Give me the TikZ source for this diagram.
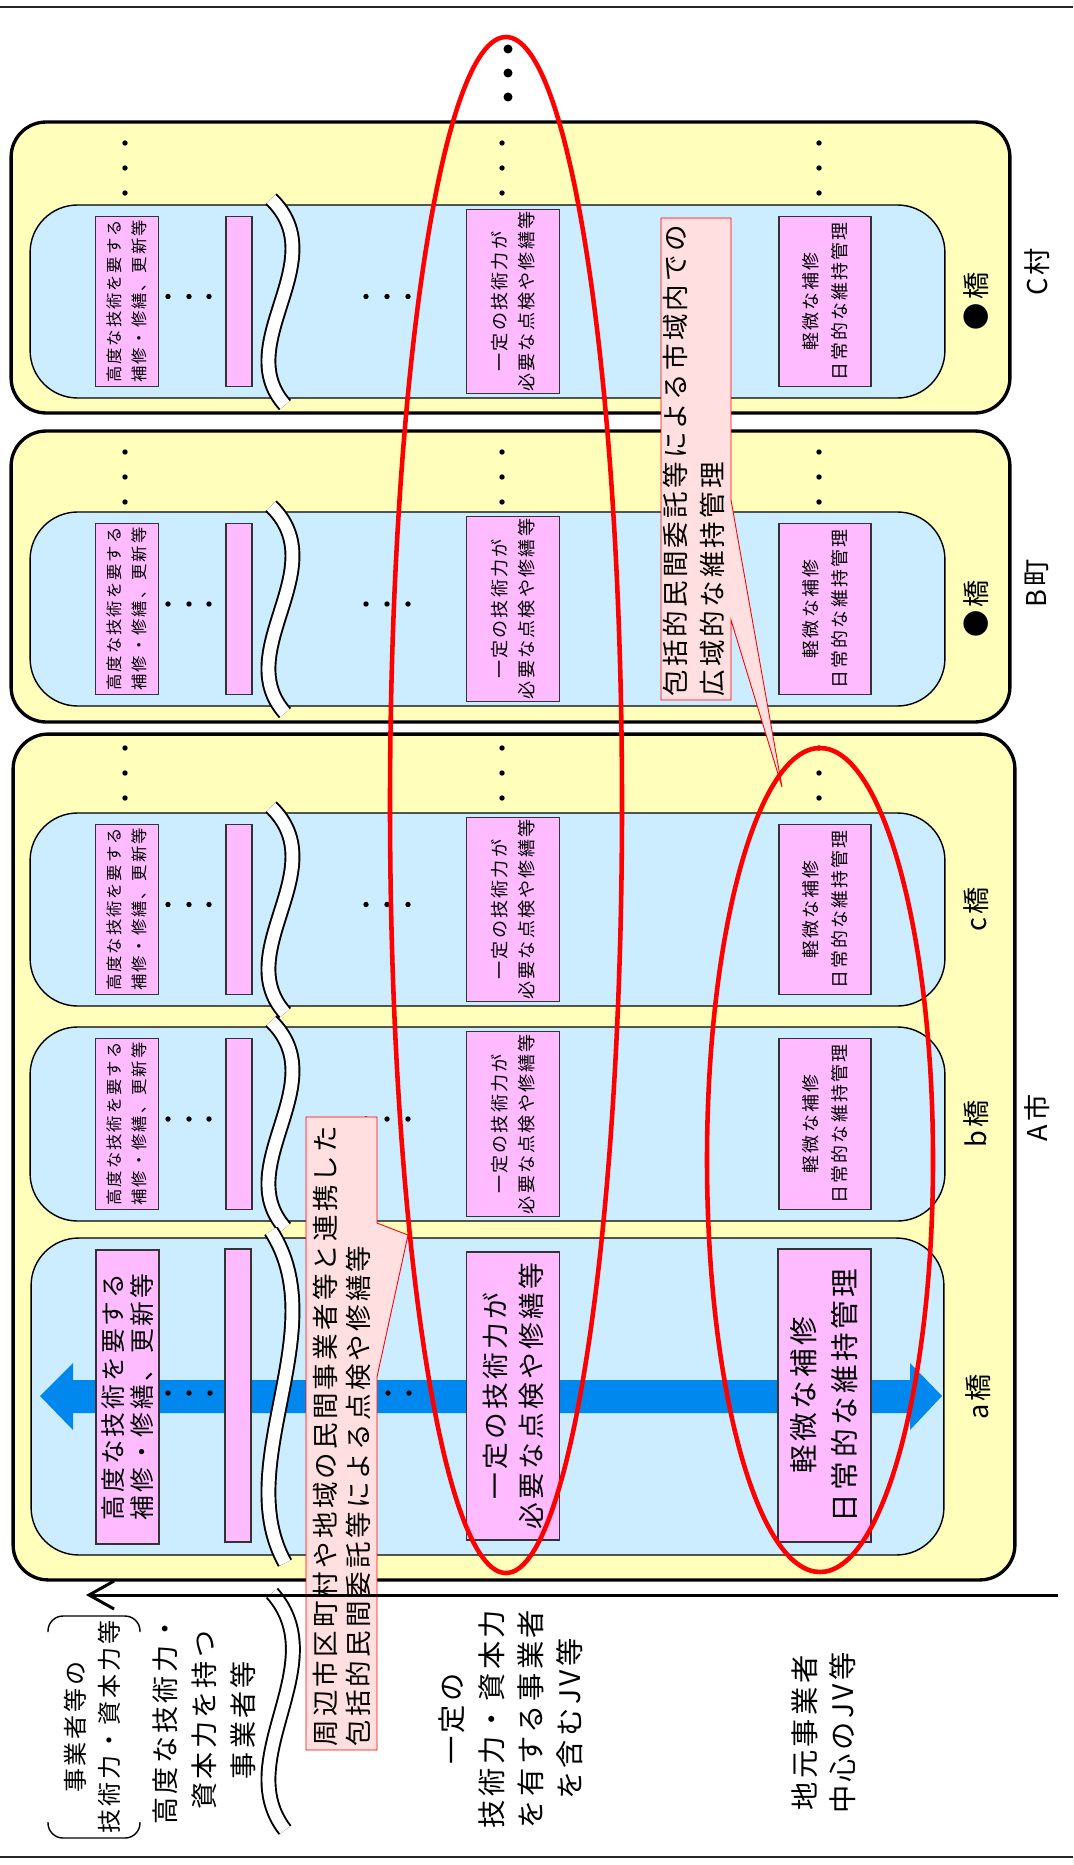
\documentclass[tikz,border=0pt]{standalone}
\usepackage{fontspec}
\usepackage{xcolor}
\usepackage{tikz}
\usetikzlibrary{calc,arrows.meta}
\newfontfamily\jp[LetterSpace=12]{Noto Sans CJK JP}
\newcommand{\jpsize}[2]{\jp\fontsize{#1pt}{#2pt}\selectfont}
\definecolor{townyellow}{HTML}{FFFFBB}
\definecolor{bridgeblue}{HTML}{CCECFF}
\definecolor{workpink}{HTML}{FFBBFF}
\definecolor{notepink}{HTML}{FFDFDF}
\definecolor{arrowblue}{HTML}{0088EE}
\tikzset{
  townbox/.style={draw, line width=1.9pt, fill=townyellow, rounded corners=0.7cm,
  outer sep=0pt},
  bridgebox/.style={draw, line width=0.8pt, fill=bridgeblue, rounded corners=0.95cm,
  outer sep=0pt},
  workbox/.style={draw=black!80, line width=0.8pt, fill=workpink, rotate=90,
  align=center, inner sep=0pt, outer sep=0pt},
  notebox/.style={draw=red, line width=0.5pt, fill=notepink},
  notetext/.style={rotate=90, anchor=west, align=left, inner sep=0pt},
  sidetext/.style={rotate=90, align=center, inner sep=0pt},
  breakline/.style={draw=black, line width=1.1pt, double=white,
  double distance=0.24cm},
  ring/.style={draw=red, line width=2.6pt}
}
\begin{document}
\begin{tikzpicture}[x=0.02cm,y=-0.02cm]
\useasboundingbox (0,0) rectangle (1073,1865);
\draw[line width=0.8pt, black!85] (0,7) -- (1073,7);
\draw[line width=0.8pt, black!85] (0,1857) -- (1073,1857);

% municipalities
\node (Cvil) [townbox, minimum width=19.98cm, minimum height=5.82cm] at (510.5,267.5) {};
\node (Btown) [townbox, minimum width=19.98cm, minimum height=5.82cm] at (510.5,576.5) {};
\node (Acity) [townbox, minimum width=20.04cm, minimum height=16.92cm] at (514,1157) {};
\node (labC) [sidetext, font=\jpsize{15.5}{18}] at (1037,272) {C村};
\node (labB) [sidetext, font=\jpsize{15.5}{18}] at (1037,583) {B町};
\node (labA) [sidetext, font=\jpsize{15.5}{18}] at (1037,1118) {A市};

% vertical dots
\foreach \y in {143,452,748}
  \foreach \x in {125,502,819}
    \foreach \d in {0,25,50}
      \fill (\x,\y+\d) circle[radius=2.7];
\foreach \y in {49,73,97}
  \fill (508,\y) circle[radius=4.5];

% small bridges
\foreach \yt/\yb/\lab [count=\i] in {205/398/●橋, 512/706/●橋, 813/1006/c橋, 1027/1221/b橋} {
  \pgfmathsetmacro\yc{(\yt+\yb)/2}
  \pgfmathsetmacro\hb{(\yb-\yt)*0.02}
  \pgfmathsetmacro\hs{(\yb-\yt-23)*0.02}
  \pgfmathsetmacro\hl{(\yb-\yt-9)*0.02}
  \node (br\i) [bridgebox, minimum width=18.3cm, minimum height=\hb cm] at (487.5,\yc) {};
  \node (hi\i) [workbox, font=\jpsize{9.3}{14.2}, minimum width=\hs cm, minimum height=1.26cm]
    at (127,\yc) {高度な技術を要する\\補修・修繕、更新等};
  \node (bar\i) [workbox, minimum width=\hs cm, minimum height=0.52cm] at (239,\yc) {};
  \node (mid\i) [workbox, font=\jpsize{10.3}{15.4}, minimum width=\hl cm, minimum height=1.86cm]
    at (513,\yc) {一定の技術力が\\必要な点検や修繕等};
  \node (lo\i) [workbox, font=\jpsize{10.2}{16.5}, minimum width=\hs cm, minimum height=1.84cm]
    at (825,\yc) {軽微な補修\\日常的な維持管理};
  \node (lb\i) [sidetext, font=\jpsize{15.5}{18}] at (976,\yc) {\lab};
  \foreach \x in {168,189,209,366,387,408}
    \fill (\x,\yc-5) circle[radius=2.7];
  \pgfmathsetmacro\wa{\yt-6}
  \pgfmathsetmacro\wh{\yb-\yt+13}
  \draw[breakline] (271,\wa) .. controls (335,\wa+0.3*\wh) and (230,\wa+0.7*\wh) .. (285,\wa+\wh);
}

% a bridge
\node (bra) [bridgebox, minimum width=18.26cm, minimum height=6.34cm] at (487.5,1396.5) {};
\fill[arrowblue] (40,1396) -- (73,1363) -- (73,1380) -- (910,1380) -- (910,1363) -- (942,1396)
  -- (910,1430) -- (910,1413) -- (73,1413) -- (73,1430) -- cycle;
\node (hia) [workbox, font=\jpsize{14.1}{16.5}, minimum width=5.88cm, minimum height=1.26cm]
  at (127.5,1397) {高度な技術を要する\\補修・修繕、更新等};
\node (bara) [workbox, minimum width=5.86cm, minimum height=0.52cm] at (238,1395.5) {};
\node (mida) [workbox, font=\jpsize{15.2}{20.5}, minimum width=5.76cm, minimum height=1.86cm]
  at (513,1396) {一定の技術力が\\必要な点検や修繕等};
\node (loa) [workbox, font=\jpsize{16.3}{23.3}, minimum width=5.86cm, minimum height=1.86cm]
  at (824.5,1395.5) {軽微な補修\\日常的な維持管理};
\node (lba) [sidetext, font=\jpsize{15.5}{18}] at (978,1397) {a橋};
\foreach \x in {168,189,210,366,388,409}
  \fill (\x,1393) circle[radius=2.7];
\draw[breakline] (271,1231) .. controls (335,1330) and (230,1464) .. (285,1563);
\draw[breakline] (272,1593) .. controls (335,1664) and (230,1759) .. (285,1830);

% callouts
\filldraw[notebox] (661,218) -- (731,218) -- (731,500) -- (782,787) -- (731,620) -- (731,700)
  -- (661,700) -- cycle;
\node (noteUp) [notetext, font=\jpsize{15.1}{21}] at (694,697) {包括的民間委託等による市域内での\\広域的な維持管理};
\filldraw[notebox] (306,1117) -- (377,1117) -- (377,1223) -- (408,1235) -- (377,1377)
  -- (377,1750) -- (306,1750) -- cycle;
\node (noteLow) [notetext, font=\jpsize{15.1}{18.8}] at (341.5,1747) {周辺市区町村や地域の民間事業者等と連携した\\包括的民間委託等による点検や修繕等};

% scope of contracts
\draw[ring] (506,805) ellipse [x radius=116, y radius=768];
\draw[ring] (820,1160) ellipse [x radius=113, y radius=412];

% axis of contractors
\coordinate (axisR) at (1058,1595);
\coordinate (axisL) at (86,1595);
\draw[line width=1.7pt, -{Straight Barb[length=0.5cm,width=0.56cm]}] (axisR) -- (axisL);
\draw[line width=0.8pt, rounded corners=0.3cm] (48,1632) -- (48,1616) -- (140,1616) -- (140,1632);
\draw[line width=0.8pt, rounded corners=0.3cm] (48,1822) -- (48,1838) -- (140,1838) -- (140,1822);
\node (capA) [sidetext, font=\jpsize{13.7}{19.3}] at (92,1727) {事業者等の\\技術力・資本力等};
\node (capB) [sidetext, font=\jpsize{15.4}{22.2}] at (204,1720) {高度な技術力・\\資本力を持つ\\事業者等};
\node (capC) [sidetext, font=\jpsize{16.1}{22.4}] at (511,1719) {一定の\\技術力・資本力\\を有する事業者\\を含むJV等};
\node (capD) [sidetext, font=\jpsize{16.1}{21.6}] at (824,1733) {地元事業者\\中心のJV等};
\end{tikzpicture}
\end{document}
